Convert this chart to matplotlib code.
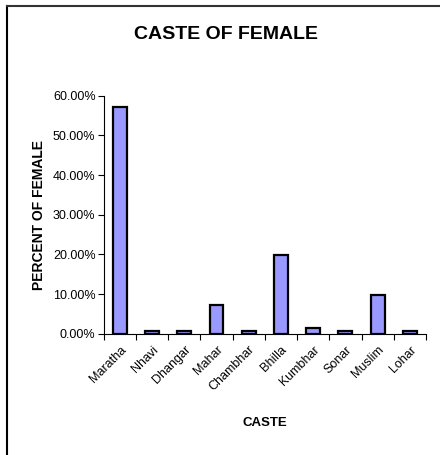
import matplotlib
matplotlib.use('Agg')
import matplotlib.pyplot as plt
from matplotlib.ticker import FuncFormatter, FixedLocator
from matplotlib.lines import Line2D
import numpy as np

plt.rcParams['font.family'] = ['Liberation Sans', 'DejaVu Sans']

castes = ['Maratha', 'Nhavi', 'Dhangar', 'Mahar', 'Chambhar',
          'Bhilla', 'Kumbhar', 'Sonar', 'Muslim', 'Lohar']
percent = [57.0, 0.75, 0.75, 7.3, 0.75, 19.9, 1.6, 0.75, 9.8, 0.75]

fig = plt.figure(figsize=(4.4, 4.55), dpi=100)
ax = fig.add_axes([0.236, 0.266, 0.732, 0.524])

x = np.arange(len(castes))
ax.bar(x, percent, width=0.43, color='#9999FF', edgecolor='black', linewidth=1.6)

ax.set_xlim(-0.5, len(castes) - 0.5)
ax.set_ylim(0, 60)
ax.set_yticks(np.arange(0, 61, 10))
ax.yaxis.set_major_formatter(FuncFormatter(lambda v, p: '%.2f%%' % v))

# category labels in the middle, tick marks on the boundaries
ax.set_xticks(x)
ax.set_xticklabels(castes, rotation=45, ha='right', rotation_mode='anchor', fontsize=9)
ax.tick_params(axis='x', which='major', length=0, pad=7)
ax.xaxis.set_minor_locator(FixedLocator(np.arange(-0.5, len(castes), 1)))
ax.tick_params(axis='x', which='minor', length=4, width=0.8)
ax.tick_params(axis='y', labelsize=9, length=4, width=0.8, pad=2)

for s in ['top', 'right']:
    ax.spines[s].set_visible(False)
for s in ['left', 'bottom']:
    ax.spines[s].set_linewidth(0.8)

ax.set_ylabel('PERCENT OF FEMALE', fontsize=10, fontweight='bold', labelpad=5)
ax.set_xlabel('CASTE', fontsize=9.5, fontweight='bold', labelpad=17)

fig.text(0.514, 0.925, 'CASTE OF FEMALE', fontsize=14, fontweight='bold',
         ha='center', va='center')

# frame around the chart (only top and left edges visible)
fig.add_artist(Line2D([7 / 440, 7 / 440], [0, 1 - 5.5 / 455], transform=fig.transFigure,
                      color='black', linewidth=1.5))
fig.add_artist(Line2D([7 / 440, 1], [1 - 5.5 / 455, 1 - 5.5 / 455], transform=fig.transFigure,
                      color='#333333', linewidth=1.5))

fig.savefig('out.png', dpi=100)
